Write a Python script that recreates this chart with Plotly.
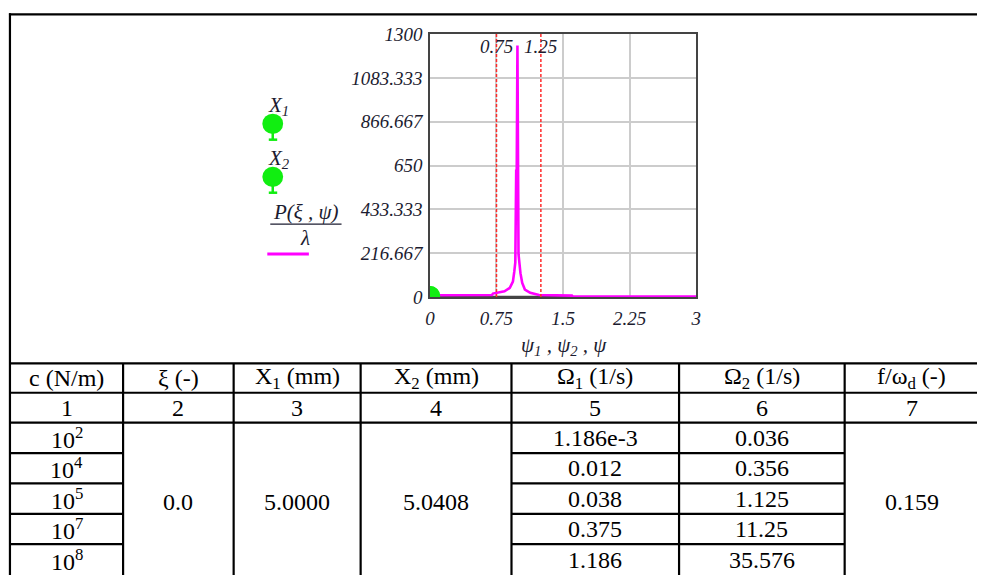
import plotly.graph_objects as go

# ---------------- data ----------------
# frequency ratio and normalised response P(xi, psi)/lambda
psi = [0.0, 0.70, 0.71, 0.84, 0.90, 0.935, 0.95, 0.962, 0.972, 0.978, 0.986,
       0.998, 1.02, 1.04, 1.07, 1.13, 1.23, 1.60, 1.61, 3.0]
p_over_lambda = [9.0, 10.0, 17.0, 28.0, 45.0, 76.0, 124.0, 171.0, 624.0, 624.0, 1244.0,
                 212.0, 118.0, 70.0, 37.0, 21.0, 10.0, 7.0, 2.0, 2.0]

# reference band (dark trace along the baseline)
band_psi = [0.0, 1.60]
band_val = [0.0, 0.0]

# natural-frequency points X1 and X2
psi_points = [0.0012, 0.0036]
x_points = [5.0000, 5.0408]

# band limits marked on the graph
band_limits = [0.75, 1.25]
band_labels = ["0.75", "1.25"]

# axis ticks
x_tick_vals = [0, 0.75, 1.5, 2.25, 3]
x_tick_text = ["0", "0.75", "1.5", "2.25", "3"]
y_tick_vals = [0, 216.667, 433.333, 650, 866.667, 1083.333, 1300]
y_tick_text = ["0", "216.667", "433.333", "650", "866.667", "1083.333", "1300"]

# table contents
headers = ["c (N/m)", "ξ (-)", "X<sub>1</sub> (mm)", "X<sub>2</sub> (mm)",
           "Ω<sub>1</sub> (1/s)", "Ω<sub>2</sub> (1/s)", "f/ω<sub>d</sub> (-)"]
column_numbers = ["1", "2", "3", "4", "5", "6", "7"]
stiffness = ["10<sup>2</sup>", "10<sup>4</sup>", "10<sup>5</sup>", "10<sup>7</sup>", "10<sup>8</sup>"]
damping_ratio = "0.0"
amplitude_1 = "5.0000"
amplitude_2 = "5.0408"
omega_1 = ["1.186e-3", "0.012", "0.038", "0.375", "1.186"]
omega_2 = ["0.036", "0.356", "1.125", "11.25", "35.576"]
freq_ratio = "0.159"

# ---------------- layout helpers ----------------
W, H = 982, 586


def px(x):
    return x / W


def py(y):
    return 1 - y / H


SERIF = "Liberation Serif"
MAGENTA = "#ff00ff"
GREEN = "#11ee11"
INK = "#1c1c30"
CHART_FS = 19
TABLE_FS = 24

# plot frame in pixels
PL, PR, PT, PB = 429.3, 698.3, 25.0, 297.7

fig = go.Figure()

fig.add_trace(go.Scatter(x=band_psi, y=band_val, mode="lines",
                         line=dict(color="#444444", width=2.5),
                         hoverinfo="skip", showlegend=False))
fig.add_trace(go.Scatter(x=psi, y=p_over_lambda, mode="lines",
                         line=dict(color=MAGENTA, width=2.6),
                         showlegend=False))
fig.add_trace(go.Scatter(x=psi_points, y=x_points, mode="markers",
                         marker=dict(color=GREEN, size=20, line=dict(width=0)),
                         cliponaxis=True, showlegend=False))

shapes = []
annotations = []

# dashed band limits
for xv, lab in zip(band_limits, band_labels):
    shapes.append(dict(type="line", xref="x", yref="y", x0=xv, x1=xv, y0=0, y1=1300,
                       line=dict(color="#ff2a2a", width=1.5, dash="3px,2px"),
                       layer="above"))
    annotations.append(dict(xref="x", yref="paper", x=xv, y=py(38), text="<i>" + lab + "</i>",
                            showarrow=False, font=dict(family=SERIF, size=CHART_FS, color=INK),
                            xanchor="center", yanchor="middle"))

# axis title
annotations.append(dict(xref="paper", yref="paper", x=px(565), y=py(349),
                        text="<i>ψ<sub>1</sub> , ψ<sub>2</sub> , ψ</i>", showarrow=False,
                        font=dict(family=SERIF, size=21, color=INK),
                        xanchor="center", yanchor="middle"))

# legend glyphs: X1, X2 and the response curve
for label, cy in [("X<sub>1</sub>", 118), ("X<sub>2</sub>", 173)]:
    annotations.append(dict(xref="paper", yref="paper", x=px(264), y=py(cy - 18),
                            text="<i>" + label + "</i>", showarrow=False,
                            font=dict(family=SERIF, size=21, color=INK),
                            xanchor="left", yanchor="middle"))
    shapes.append(dict(type="circle", xref="paper", yref="paper",
                       x0=px(260), x1=px(281), y0=py(cy - 10.5), y1=py(cy + 10.5),
                       fillcolor=GREEN, line=dict(width=0)))
    shapes.append(dict(type="line", xref="paper", yref="paper",
                       x0=px(270.5), x1=px(270.5), y0=py(cy + 9), y1=py(cy + 17),
                       line=dict(color=GREEN, width=2.5)))
    shapes.append(dict(type="line", xref="paper", yref="paper",
                       x0=px(266.5), x1=px(275), y0=py(cy + 16.5), y1=py(cy + 16.5),
                       line=dict(color=GREEN, width=2.5)))

annotations.append(dict(xref="paper", yref="paper", x=px(304), y=py(209),
                        text="<i>P(ξ , ψ)</i>", showarrow=False,
                        font=dict(family=SERIF, size=21, color=INK),
                        xanchor="center", yanchor="middle"))
shapes.append(dict(type="line", xref="paper", yref="paper", x0=px(268), x1=px(340),
                   y0=py(222), y1=py(222), line=dict(color=INK, width=1.3)))
annotations.append(dict(xref="paper", yref="paper", x=px(303), y=py(236),
                        text="<i>λ</i>", showarrow=False,
                        font=dict(family=SERIF, size=21, color=INK),
                        xanchor="center", yanchor="middle"))
shapes.append(dict(type="line", xref="paper", yref="paper", x0=px(265), x1=px(307),
                   y0=py(253), y1=py(253), line=dict(color=MAGENTA, width=3)))

# ---------------- table ----------------
col_edges = [5, 119.3, 231, 359.3, 511.7, 681, 848.3, 984]
row_edges = [366.5, 397, 428, 459.5, 491, 522.5, 554, 586]
TABLE_TOP = 4.5
LW = 2.2


def hline(y, x0, x1):
    shapes.append(dict(type="line", xref="paper", yref="paper", x0=px(x0), x1=px(x1),
                       y0=py(y), y1=py(y), line=dict(color="black", width=LW)))


def vline(x, y0, y1):
    shapes.append(dict(type="line", xref="paper", yref="paper", x0=px(x), x1=px(x),
                       y0=py(y0), y1=py(y1), line=dict(color="black", width=LW)))


hline(TABLE_TOP, 4, W)
vline(col_edges[0], TABLE_TOP - 1, H)
for y in row_edges[:3]:
    hline(y, col_edges[0], W)
for x in col_edges[1:-1]:
    vline(x, row_edges[0], H)
# row separators only in the per-row columns
for y in row_edges[3:-1]:
    for ci in (0, 4, 5):
        hline(y, col_edges[ci], col_edges[ci + 1])


def cell_text(text, ci, yc):
    xc = (col_edges[ci] + col_edges[ci + 1]) / 2
    annotations.append(dict(xref="paper", yref="paper", x=px(xc), y=py(yc), text=text,
                            showarrow=False, font=dict(family=SERIF, size=TABLE_FS, color="black"),
                            xanchor="center", yanchor="middle"))


for ci, h in enumerate(headers):
    cell_text(h, ci, (row_edges[0] + row_edges[1]) / 2)
for ci, n in enumerate(column_numbers):
    cell_text(n, ci, (row_edges[1] + row_edges[2]) / 2)
for ri in range(5):
    yc = (row_edges[2 + ri] + row_edges[3 + ri]) / 2
    cell_text(stiffness[ri], 0, yc)
    cell_text(omega_1[ri], 4, yc)
    cell_text(omega_2[ri], 5, yc)
merged_y = (row_edges[2] + 592) / 2
cell_text(damping_ratio, 1, merged_y)
cell_text(amplitude_1, 2, merged_y)
cell_text(amplitude_2, 3, merged_y)
cell_text(freq_ratio, 6, merged_y)

fig.update_layout(
    width=W, height=H, autosize=False,
    margin=dict(l=0, r=0, t=0, b=0),
    paper_bgcolor="white", plot_bgcolor="white",
    showlegend=False,
    shapes=shapes, annotations=annotations,
    xaxis=dict(domain=[px(PL), px(PR)], range=[0, 3], tickvals=x_tick_vals, ticktext=x_tick_text,
               showgrid=True, gridcolor="#cccccc", gridwidth=1.5, zeroline=False,
               showline=True, mirror=True, linecolor="#444444", linewidth=1.5,
               ticks="", ticklabelstandoff=3,
               tickfont=dict(family=SERIF, size=CHART_FS, color=INK, style="italic")),
    yaxis=dict(domain=[py(PB), py(PT)], range=[0, 1300], tickvals=y_tick_vals, ticktext=y_tick_text,
               showgrid=True, gridcolor="#cccccc", gridwidth=1.5, zeroline=False,
               showline=True, mirror=True, linecolor="#444444", linewidth=1.5,
               ticks="", ticklabelstandoff=2,
               tickfont=dict(family=SERIF, size=CHART_FS, color=INK, style="italic")),
)

fig.write_html("out.html")
